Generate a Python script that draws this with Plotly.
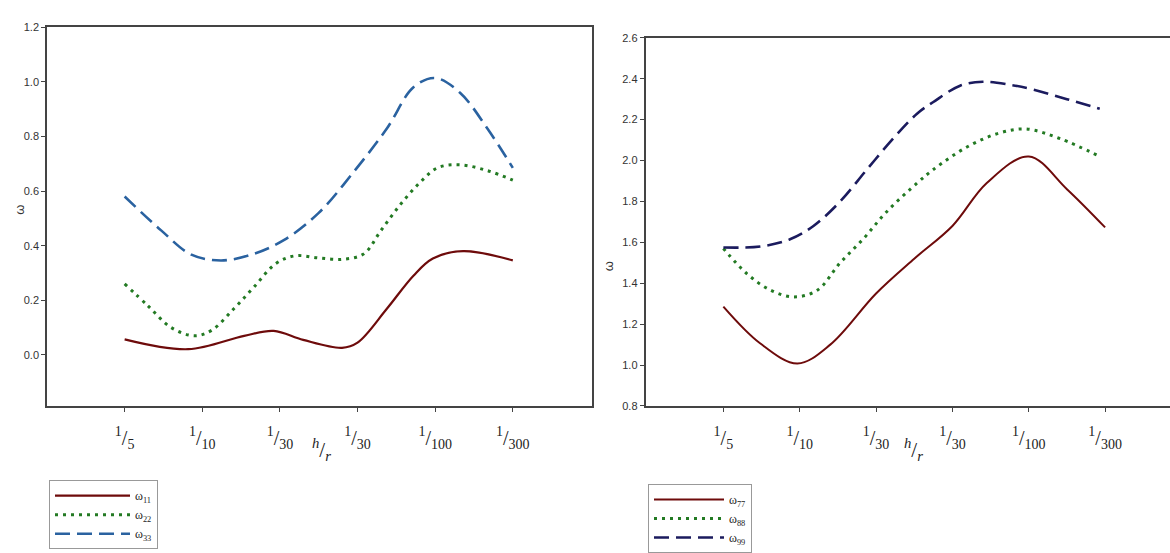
import plotly.graph_objects as go

# ---------------- data (x in category-index units) ----------------
tick_labels = ["<sup>1</sup>/<sub>5</sub>", "<sup>1</sup>/<sub>10</sub>", "<sup>1</sup>/<sub>30</sub>",
               "<sup>1</sup>/<sub>30</sub>", "<sup>1</sup>/<sub>100</sub>", "<sup>1</sup>/<sub>300</sub>"]
tick_pos = [0, 1, 2, 3, 4, 5]
x_title = "<i><sup>h</sup></i>/<i><sub>r</sub></i>"
y_title = "ω"

# Left panel
w11_x = [0, 0.82, 1.54, 1.92, 2.3, 2.8, 3.0, 3.38, 3.72, 3.97, 4.36, 5.0]
w11_y = [0.057, 0.021, 0.07, 0.088, 0.055, 0.026, 0.045, 0.17, 0.29, 0.353, 0.38, 0.346]

w22_x = [0, 0.3, 0.6, 0.9, 1.12, 1.41, 1.67, 1.95, 2.2, 2.5, 2.8, 3.08, 3.3, 3.55, 3.8, 4.03, 4.32, 4.67, 5.0]
w22_y = [0.26, 0.18, 0.10, 0.07, 0.09, 0.17, 0.25, 0.335, 0.363, 0.355, 0.35, 0.37, 0.455, 0.55, 0.63,
         0.685, 0.696, 0.675, 0.64]

w33_x = [0, 0.47, 0.86, 1.24, 1.63, 2.05, 2.5, 2.95, 3.38, 3.72, 4.0, 4.32, 4.67, 5.0]
w33_y = [0.58, 0.456, 0.367, 0.346, 0.367, 0.42, 0.52, 0.67, 0.83, 0.98, 1.014, 0.96, 0.83, 0.685]

# Right panel
w77_x = [0, 0.48, 0.97, 1.4, 2.0, 2.5, 3.0, 3.45, 4.0, 4.5, 5.0]
w77_y = [1.286, 1.107, 1.008, 1.10, 1.35, 1.52, 1.68, 1.89, 2.02, 1.86, 1.673]

w88_x = [0, 0.31, 0.62, 0.92, 1.23, 1.53, 1.83, 2.14, 2.55, 2.75, 3.19, 3.62, 3.97, 4.41, 4.93]
w88_y = [1.57, 1.446, 1.366, 1.333, 1.366, 1.50, 1.616, 1.75, 1.894, 1.956, 2.066, 2.135, 2.154, 2.107, 2.02]

w99_x = [0, 0.49, 0.88, 1.18, 1.53, 1.88, 2.23, 2.54, 2.75, 3.1, 3.4, 3.76, 4.06, 4.5, 4.93]
w99_y = [1.575, 1.58, 1.616, 1.68, 1.80, 1.956, 2.11, 2.23, 2.286, 2.366, 2.385, 2.37, 2.347, 2.30, 2.253]

# ---------------- styles ----------------
RED = "#6e0b0b"
GREEN = "#237a23"
BLUE = "#2a62a0"
NAVY = "#1b1b5e"
AXC = "#444444"
SERIF = "Liberation Serif"
SANS = "Liberation Sans"

fig = go.Figure()

def add(x, y, name, color, dash, width, xa, ya, legend):
    fig.add_trace(go.Scatter(
        x=x, y=y, mode="lines", name=name,
        line=dict(color=color, dash=dash, width=width, shape="spline", smoothing=1.0),
        xaxis=xa, yaxis=ya, legend=legend, hoverinfo="skip"))

add(w11_x, w11_y, "ω<sub>11</sub>", RED, "solid", 2.2, "x", "y", "legend")
add(w22_x, w22_y, "ω<sub>22</sub>", GREEN, "3px,5px", 3, "x", "y", "legend")
add(w33_x, w33_y, "ω<sub>33</sub>", BLUE, "15px,7px", 2.6, "x", "y", "legend")

add(w77_x, w77_y, "ω<sub>77</sub>", RED, "solid", 2.0, "x2", "y2", "legend2")
add(w88_x, w88_y, "ω<sub>88</sub>", GREEN, "3px,5px", 3, "x2", "y2", "legend2")
add(w99_x, w99_y, "ω<sub>99</sub>", NAVY, "15px,7px", 2.6, "x2", "y2", "legend2")

W, H = 1170, 553

xcommon = dict(tickvals=tick_pos, ticktext=tick_labels, showline=True, linecolor=AXC, linewidth=1.5,
               ticks="outside", ticklen=4, tickcolor=AXC, showgrid=False, zeroline=False,
               ticklabelstandoff=9,
               tickfont=dict(family=SERIF, size=20, color="#222"))
ycommon = dict(showline=True, linecolor=AXC, linewidth=1.5, ticks="outside", ticklen=4,
               tickcolor=AXC, showgrid=False, zeroline=False, tickformat=".1f",
               tickfont=dict(family=SANS, size=11, color="#333"))

fig.update_layout(
    width=W, height=H, margin=dict(l=0, r=0, t=0, b=0),
    paper_bgcolor="white", plot_bgcolor="white",
    xaxis=dict(**xcommon, domain=[47 / W, 592 / W], range=[-1.0, 6.02], mirror=True, anchor="y"),
    yaxis=dict(**ycommon, domain=[1 - 415 / H, 1 - 22 / H], range=[-0.187, 1.2],
               tickvals=[0, 0.2, 0.4, 0.6, 0.8, 1.0, 1.2], mirror=True, anchor="x"),
    xaxis2=dict(**xcommon, domain=[645.5 / W, 1.0], range=[-1.02, 5.85], mirror=True, anchor="y2"),
    yaxis2=dict(**ycommon, domain=[1 - 415 / H, 1 - 33 / H], range=[0.8, 2.6],
                tickvals=[0.8, 1.0, 1.2, 1.4, 1.6, 1.8, 2.0, 2.2, 2.4, 2.6], mirror=False, anchor="x2"),
    legend=dict(x=49 / W, y=1 - 492 / H, xanchor="left", yanchor="top", bgcolor="white",
                bordercolor="#999", borderwidth=1, itemwidth=75, tracegroupgap=0,
                font=dict(family=SERIF, size=12, color="#222")),
    legend2=dict(x=648 / W, y=1 - 496 / H, xanchor="left", yanchor="top", bgcolor="white",
                 bordercolor="#999", borderwidth=1, itemwidth=70, tracegroupgap=0,
                 font=dict(family=SERIF, size=12, color="#222")),
    annotations=[
        dict(text=y_title, xref="paper", yref="paper", x=10 / W, y=1 - 212 / H, showarrow=False,
             textangle=-90, font=dict(family=SANS, size=13, color="#333")),
        dict(text=y_title, xref="paper", yref="paper", x=608 / W, y=1 - 270 / H, showarrow=False,
             textangle=-90, font=dict(family=SANS, size=13, color="#333")),
        dict(text=x_title, xref="paper", yref="paper", x=321 / W, y=1 - 460 / H, showarrow=False,
             xanchor="center", yanchor="middle", font=dict(family=SERIF, size=21, color="#222")),
        dict(text=x_title, xref="paper", yref="paper", x=913 / W, y=1 - 460 / H, showarrow=False,
             xanchor="center", yanchor="middle", font=dict(family=SERIF, size=21, color="#222")),
    ],
    showlegend=True,
)

fig.write_html("out.html", config={"displayModeBar": False},
               post_script="document.body.style.margin='0';")
